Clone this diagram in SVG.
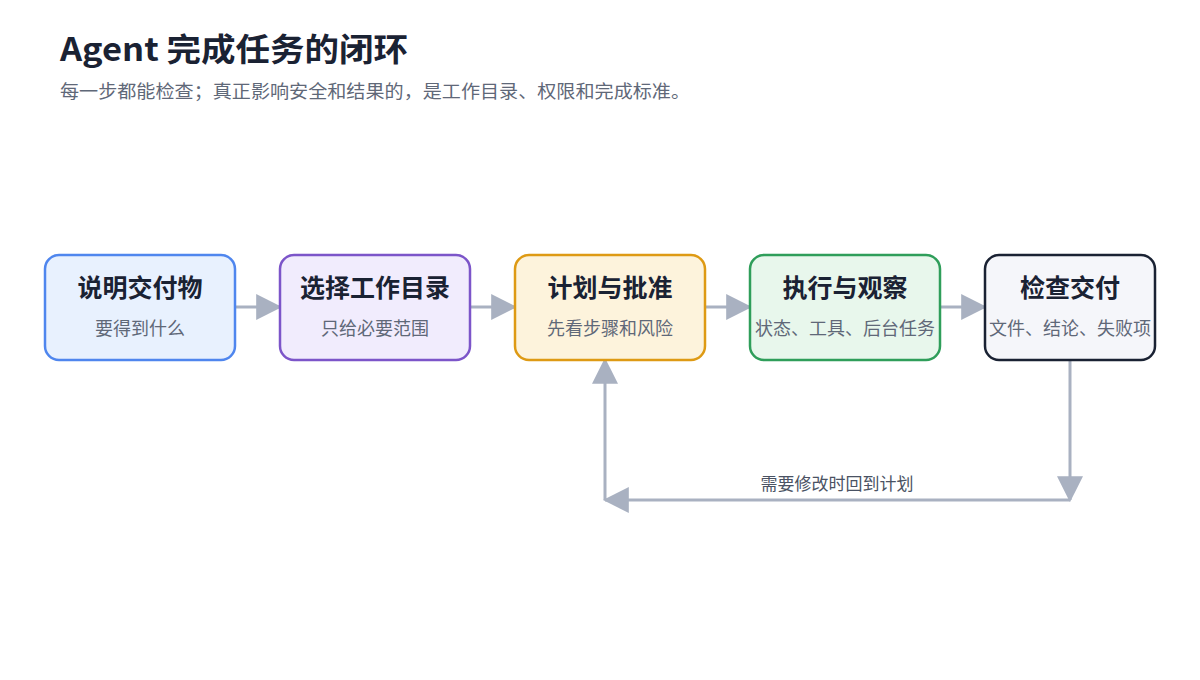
<svg xmlns="http://www.w3.org/2000/svg" width="1200" height="680" viewBox="0 0 1200 680">
<style>
text{font-family:"Noto Sans CJK SC","Noto Sans",sans-serif}
.t{font-size:25px;font-weight:700;fill:#1a2233;text-anchor:middle}
.s{font-size:18px;fill:#5f6878;text-anchor:middle}
.box{stroke-width:2.5}
.c{stroke:#a9b1c1;stroke-width:3;fill:none;marker-end:url(#a)}
</style>
<defs><marker id="a" markerUnits="userSpaceOnUse" markerWidth="26" markerHeight="26" refX="22" refY="12" orient="auto" viewBox="0 0 24 24"><path d="M0,0L24,12L0,24z" fill="#a9b1c1"/></marker></defs>
<rect width="1200" height="680" fill="#fff"/>
<text x="60" y="61" textLength="348" lengthAdjust="spacingAndGlyphs" style="font-size:32px;font-weight:700;fill:#1a2233">Agent 完成任务的闭环</text>
<text x="60" y="98" textLength="630" lengthAdjust="spacingAndGlyphs" style="font-size:18px;fill:#5f6878">每一步都能检查；真正影响安全和结果的，是工作目录、权限和完成标准。</text>
<g id="connectors">
<path class="c" d="M235,307H280"/>
<path class="c" d="M470,307H515"/>
<path class="c" d="M705,307H750"/>
<path class="c" d="M940,307H985"/>
<path class="c" d="M1070,360V500"/>
<path class="c" d="M1070,500H605"/>
<path class="c" d="M605,500V360"/>
<text x="837" y="490" style="font-size:17px;fill:#4a5263;text-anchor:middle">需要修改时回到计划</text>
</g>
<g id="n1"><rect class="box" x="45" y="255" width="190" height="105" rx="14" fill="#e8f1fe" stroke="#4f86ee"/><text class="t" x="140" y="297">说明交付物</text><text class="s" x="140" y="335">要得到什么</text></g>
<g id="n2"><rect class="box" x="280" y="255" width="190" height="105" rx="14" fill="#f1ecfd" stroke="#7c55c9"/><text class="t" x="375" y="297">选择工作目录</text><text class="s" x="375" y="335">只给必要范围</text></g>
<g id="n3"><rect class="box" x="515" y="255" width="190" height="105" rx="14" fill="#fdf3dc" stroke="#de9a14"/><text class="t" x="610" y="297">计划与批准</text><text class="s" x="610" y="335">先看步骤和风险</text></g>
<g id="n4"><rect class="box" x="750" y="255" width="190" height="105" rx="14" fill="#e8f7ec" stroke="#2f9e5a"/><text class="t" x="845" y="297">执行与观察</text><text class="s" x="845" y="335">状态、工具、后台任务</text></g>
<g id="n5"><rect class="box" x="985" y="255" width="170" height="105" rx="14" fill="#f5f6fa" stroke="#1a2233"/><text class="t" x="1070" y="297">检查交付</text><text class="s" x="1070" y="335">文件、结论、失败项</text></g>
</svg>
